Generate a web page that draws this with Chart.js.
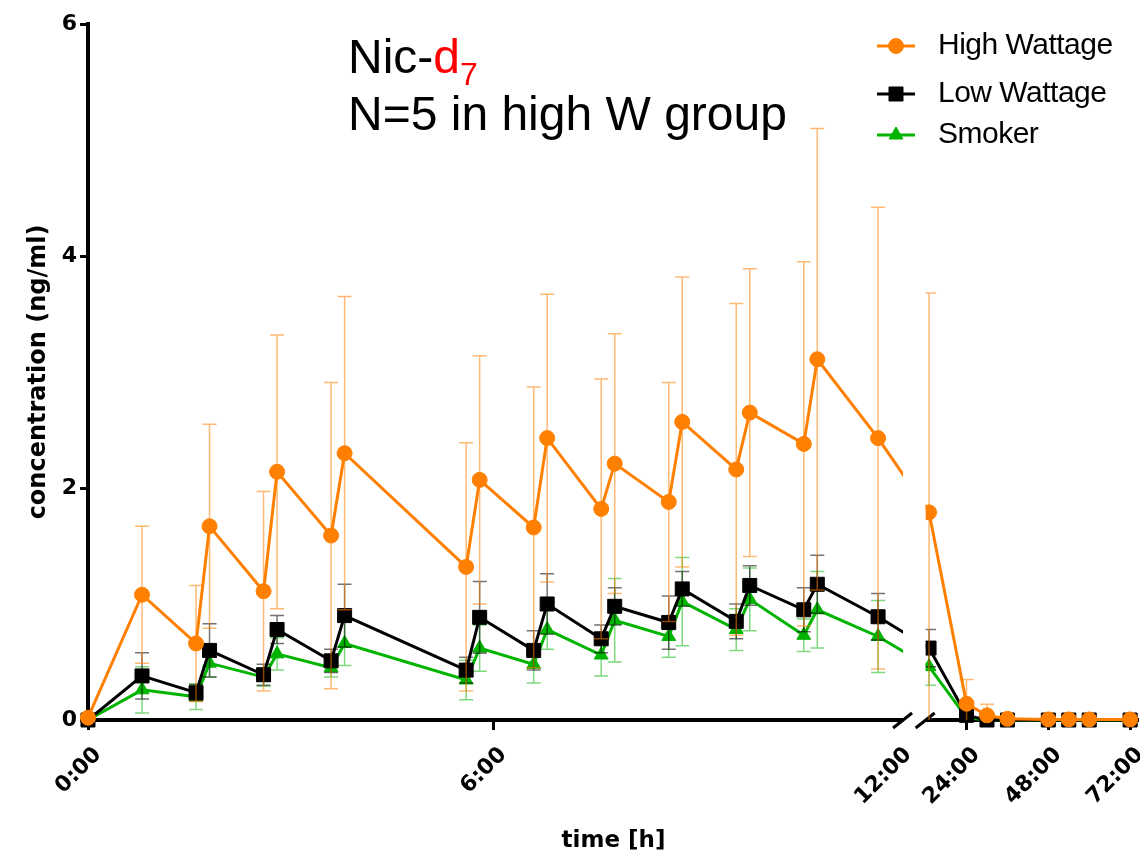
<!DOCTYPE html>
<html>
<head>
<meta charset="utf-8">
<script src="https://cdn.jsdelivr.net/npm/chart.js@4.4.1/dist/chart.umd.min.js"></script>
<style>
  html, body { margin: 0; padding: 0; background: #fff; }
  #wrap { position: relative; width: 1140px; height: 852px; }
  #note { position: absolute; left: 348px; top: 28px; font: 48px "Liberation Sans", Arial, sans-serif; line-height: 57px; color: #000; white-space: nowrap; }
  #note .red { color: #ff0000; }
  #note sub { font-size: 32px; line-height: 0; position: relative; top: 12px; vertical-align: baseline; }
</style>
</head>
<body>
<div id="wrap">
  <canvas id="chart"></canvas>
  <div id="note">Nic-<span class="red">d<sub>7</sub></span><br>N=5 in high W group</div>
</div>
<script>
// sampling times (hours after start)
const times = [0, 0.8, 1.6, 1.8, 2.6, 2.8, 3.6, 3.8, 5.6, 5.8, 6.6, 6.8, 7.6, 7.8, 8.6, 8.8, 9.6, 9.8, 10.6, 10.8, 11.7, 13, 24, 30, 36, 48, 54, 60, 72];
const timeTicks = [0, 6, 12, 24, 48, 72];
const concTicks = [0, 2, 4, 6];

// mean concentration (ng/ml) and error
const highW = [0.02, 1.08, 0.66, 1.67, 1.11, 2.14, 1.59, 2.30, 1.32, 2.07, 1.66, 2.43, 1.82, 2.21, 1.88, 2.57, 2.16, 2.65, 2.38, 3.11, 2.43, 1.79, 0.14, 0.04, 0.01, 0.005, 0.005, 0.005, 0.005];
const highSD = [0.03, 0.59, 0.5, 0.88, 0.86, 1.18, 1.32, 1.35, 1.07, 1.07, 1.21, 1.24, 1.12, 1.12, 1.03, 1.25, 1.43, 1.24, 1.57, 1.99, 1.99, 1.89, 0.21, 0.095, 0.01, 0, 0, 0, 0];

const lowW = [0, 0.38, 0.235, 0.60, 0.39, 0.78, 0.51, 0.90, 0.43, 0.885, 0.60, 1.0, 0.70, 0.98, 0.84, 1.13, 0.85, 1.16, 0.95, 1.17, 0.89, 0.62, 0.04, 0, 0, 0, 0, 0, 0];
const lowSD = [0, 0.2, 0.07, 0.23, 0.09, 0.12, 0.1, 0.27, 0.11, 0.31, 0.17, 0.26, 0.12, 0.16, 0.23, 0.15, 0.15, 0.17, 0.19, 0.25, 0.2, 0.16, 0.03, 0, 0, 0, 0, 0, 0];

const smoker = [0, 0.26, 0.2, 0.49, 0.37, 0.57, 0.45, 0.66, 0.345, 0.62, 0.48, 0.78, 0.56, 0.86, 0.72, 1.02, 0.78, 1.04, 0.73, 0.95, 0.72, 0.46, 0.02, 0, 0, 0, 0, 0, 0];
const smokerSD = [0, 0.2, 0.11, 0.12, 0.08, 0.14, 0.08, 0.19, 0.17, 0.2, 0.16, 0.17, 0.18, 0.36, 0.18, 0.38, 0.18, 0.27, 0.14, 0.33, 0.31, 0.16, 0.02, 0, 0, 0, 0, 0, 0];

// broken time axis: 0-12 h wide, then 12-72 h squeezed
const SEG1 = { from: 0, to: 12.07, start: 0, end: 0.7755 };
const SEG2 = { from: 12, to: 74.6, start: 0.797, end: 1 };

function toDecimal(v) {
  const s = v <= SEG1.to ? SEG1 : SEG2;
  return s.start + (v - s.from) / (s.to - s.from) * (s.end - s.start);
}
function fromDecimal(d) {
  const s = d <= SEG1.end ? SEG1 : SEG2;
  return s.from + (d - s.start) / (s.end - s.start) * (s.to - s.from);
}

class BrokenTimeScale extends Chart.LinearScale {
  buildTicks() {
    return timeTicks.map(v => ({ value: v }));
  }
  getPixelForValue(v) {
    if (v === null || v === undefined || isNaN(v)) return NaN;
    return this.getPixelForDecimal(toDecimal(v));
  }
  getValueForPixel(p) {
    return fromDecimal(this.getDecimalForPixel(p));
  }
  // rotated labels must not shrink the plot on the right
  getPadding() {
    return { left: 0, top: 0, right: 0, bottom: 0 };
  }
}
BrokenTimeScale.id = "brokenTime";
BrokenTimeScale.defaults = Chart.LinearScale.defaults;
Chart.register(BrokenTimeScale);

const ORANGE = "#ff8000";
const GREEN = "#00b400";
const boldFont = size => ({ family: "DejaVu Sans", weight: "bold", size: size });

function points(values) {
  return times.map((t, i) => ({ x: t, y: values[i] }));
}

// axis line with break marks + clip the gap
const brokenAxis = {
  id: "brokenAxis",
  beforeDatasetsDraw(chart) {
    const { ctx, chartArea: a, scales: { x } } = chart;
    const gapL = x.getPixelForDecimal(SEG1.end);
    const gapR = x.getPixelForDecimal(SEG2.start);
    ctx.save();
    ctx.strokeStyle = "#000";
    ctx.lineWidth = 4;
    ctx.beginPath();
    ctx.moveTo(a.left - 2, a.bottom);
    ctx.lineTo(gapL, a.bottom);
    ctx.moveTo(gapR, a.bottom);
    ctx.lineTo(a.right, a.bottom);
    ctx.stroke();
    ctx.lineWidth = 3;
    [gapL, gapR].forEach(px => {
      ctx.beginPath();
      ctx.moveTo(px - 10, a.bottom + 8);
      ctx.lineTo(px + 9, a.bottom - 7);
      ctx.stroke();
    });
    ctx.restore();

    ctx.save();
    ctx.beginPath();
    ctx.rect(0, 0, gapL, chart.height);
    ctx.rect(gapR, 0, chart.width - gapR, chart.height);
    ctx.clip();
  },
  afterDatasetsDraw(chart) {
    chart.ctx.restore();
  }
};

// error bars, drawn right after each series
const errorBars = {
  id: "errorBars",
  afterDatasetDraw(chart, args) {
    const ds = chart.data.datasets[args.index];
    if (!ds.sd) return;
    const ctx = chart.ctx;
    const y = chart.scales.y;
    ctx.save();
    ctx.strokeStyle = ds.barColor;
    ctx.lineWidth = 1.5;
    args.meta.data.forEach((pt, i) => {
      const v = ds.data[i].y;
      const e = ds.sd[i];
      if (!e) return;
      const top = y.getPixelForValue(v + e);
      const low = v - e;
      const bot = y.getPixelForValue(Math.max(low, 0));
      ctx.beginPath();
      ctx.moveTo(pt.x, top);
      ctx.lineTo(pt.x, bot);
      ctx.moveTo(pt.x - 7, top);
      ctx.lineTo(pt.x + 7, top);
      if (low > 0) {
        ctx.moveTo(pt.x - 7, bot);
        ctx.lineTo(pt.x + 7, bot);
      }
      ctx.stroke();
    });
    ctx.restore();
  }
};

// legend top right
const legendRowsY = [46, 94, 135];
const sideLegend = {
  id: "sideLegend",
  afterDraw(chart) {
    const ctx = chart.ctx;
    ctx.save();
    chart.data.datasets.forEach((ds, i) => {
      const yy = legendRowsY[i];
      ctx.strokeStyle = ds.borderColor;
      ctx.fillStyle = ds.borderColor;
      ctx.lineWidth = 3;
      ctx.beginPath();
      ctx.moveTo(877, yy);
      ctx.lineTo(915, yy);
      ctx.stroke();
      ctx.lineWidth = 1;
      Chart.helpers.drawPoint(ctx, { pointStyle: ds.pointStyle, radius: ds.pointRadius, rotation: 0, borderWidth: 1 }, 896, yy);
      ctx.fillStyle = "#000";
      ctx.font = '30px "Liberation Sans", Arial, sans-serif';
      ctx.letterSpacing = "-0.5px";
      ctx.textBaseline = "alphabetic";
      ctx.textAlign = "left";
      ctx.fillText(ds.label, 938, yy + 8);
    });
    ctx.restore();
  }
};

new Chart(document.getElementById("chart"), {
  type: "line",
  data: {
    datasets: [{
      label: "High Wattage",
      data: points(highW),
      sd: highSD,
      barColor: "rgba(255,128,0,0.55)",
      borderColor: ORANGE,
      backgroundColor: ORANGE,
      borderWidth: 3,
      pointStyle: "circle",
      pointRadius: 7.5,
      pointBorderWidth: 1,
      clip: false
    }, {
      label: "Low Wattage",
      data: points(lowW),
      sd: lowSD,
      barColor: "rgba(0,0,0,0.55)",
      borderColor: "#000",
      backgroundColor: "#000",
      borderWidth: 3,
      pointStyle: "rect",
      pointRadius: 9.9,
      pointBorderWidth: 1,
      clip: false
    }, {
      label: "Smoker",
      data: points(smoker),
      sd: smokerSD,
      barColor: "rgba(0,180,0,0.5)",
      borderColor: GREEN,
      backgroundColor: GREEN,
      borderWidth: 3,
      pointStyle: "triangle",
      pointRadius: 8,
      pointBorderWidth: 1,
      clip: false
    }]
  },
  options: {
    responsive: true,
    maintainAspectRatio: false,
    animation: false,
    events: [],
    layout: { autoPadding: false, padding: { top: 24, right: 1, left: 0, bottom: 0 } },
    plugins: {
      legend: { display: false },
      tooltip: { enabled: false }
    },
    scales: {
      x: {
        type: "brokenTime",
        min: 0,
        max: SEG2.to,
        border: { display: false },
        grid: {
          drawOnChartArea: false,
          drawTicks: true,
          tickLength: 10,
          lineWidth: 3,
          color: c => (c.tick && c.tick.value === 12 ? "rgba(0,0,0,0)" : "#000")
        },
        ticks: {
          autoSkip: false,
          minRotation: 45,
          maxRotation: 45,
          padding: 12,
          labelOffset: 10,
          color: "#000",
          font: boldFont(22),
          callback: v => v + ":00"
        },
        title: {
          display: true,
          text: "time [h]",
          color: "#000",
          font: boldFont(23),
          padding: { top: 0, bottom: -3 }
        },
        afterFit: s => { s.height = 132; }
      },
      y: {
        min: 0,
        max: 6,
        afterBuildTicks: s => { s.ticks = concTicks.map(v => ({ value: v })); },
        border: { color: "#000", width: 4 },
        grid: { drawOnChartArea: false, tickLength: 8, lineWidth: 3, color: "#000" },
        ticks: { color: "#000", padding: 3, font: boldFont(22) },
        title: {
          display: true,
          text: "concentration (ng/ml)",
          color: "#000",
          font: boldFont(24),
          padding: { top: 24, bottom: 0 }
        },
        afterFit: s => {
          s.width = 88;
          s.paddingTop = 0;
          s.paddingBottom = 0;
        }
      }
    }
  },
  plugins: [brokenAxis, errorBars, sideLegend]
});
</script>
</body>
</html>
